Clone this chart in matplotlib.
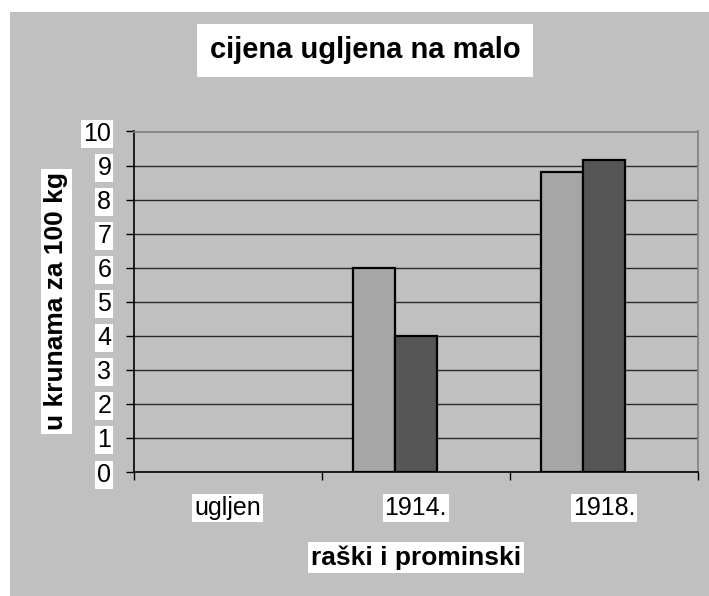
import numpy as np
import matplotlib
matplotlib.use("Agg")
import matplotlib.pyplot as plt
from matplotlib.patches import Rectangle

plt.rcParams['font.family'] = ['Liberation Sans', 'DejaVu Sans']

# data
categories = ["ugljen", "1914.", "1918."]
series_a = [np.nan, 6.0, 8.8]    # light bars
series_b = [np.nan, 4.0, 9.15]   # dark bars
n_series = 3                     # third series is empty, but it still takes a slot
yticks = list(range(0, 11))

light = "#a6a6a6"
dark = "#565656"
bg = "#c0c0c0"

fig = plt.figure(figsize=(7.09, 5.96), dpi=100, facecolor="white")
# grey chart area, leaves a thin white strip at top and left
fig.patches.append(Rectangle((10 / 709, 0), 1, (596 - 12) / 596,
                             transform=fig.transFigure, facecolor=bg,
                             edgecolor="none", zorder=-10))

ax = fig.add_axes([133.5 / 709, 124 / 596, (698 - 133.5) / 709, (472 - 131.5) / 596])
ax.set_facecolor(bg)

x = np.arange(len(categories))
w = 0.222
offs = (np.arange(n_series) - (n_series - 1) / 2) * w
ax.bar(x + offs[0], series_a, w, color=light, edgecolor="black", linewidth=1.6, zorder=3)
ax.bar(x + offs[1], series_b, w, color=dark, edgecolor="black", linewidth=1.6, zorder=3)

ax.set_xlim(-0.5, len(categories) - 0.5)
ax.set_ylim(0, 10)
ax.set_yticks(yticks)
ax.yaxis.grid(True, color="#2a2a2a", linewidth=1.0, zorder=1)
ax.set_axisbelow(True)

# x: ticks at category borders, labels in the middle
ax.set_xticks(np.arange(len(categories) + 1) - 0.5)
ax.set_xticklabels([])
ax.set_xticks(x, minor=True)
ax.set_xticklabels(categories, minor=True)
ax.tick_params(axis="x", which="major", direction="out", length=6, width=1, color="black")
ax.tick_params(axis="x", which="minor", length=0, pad=17, labelsize=18)
ax.tick_params(axis="y", direction="out", length=6, width=1, color="black", pad=10, labelsize=18)

for lbl in ax.get_yticklabels() + ax.get_xticklabels(minor=True):
    lbl.set_bbox(dict(facecolor="white", edgecolor="none", pad=1.5))

ax.spines["left"].set_color("black")
ax.spines["bottom"].set_color("black")
ax.spines["top"].set_color("#808080")
ax.spines["right"].set_color("#808080")
for s in ax.spines.values():
    s.set_linewidth(1.2)
    s.set_zorder(4)

fig.text(365 / 709, 1 - 50.5 / 596, "cijena ugljena na malo", fontsize=21,
         fontweight="bold", ha="center", va="center",
         bbox=dict(facecolor="white", edgecolor="none", pad=9))
fig.text(56.5 / 709, 1 - 301.5 / 596, "u krunama za 100 kg", fontsize=19,
         fontweight="bold", rotation=90, ha="center", va="center",
         bbox=dict(facecolor="white", edgecolor="none", pad=2.5))
fig.text(416 / 709, 1 - 557.5 / 596, "raški i prominski", fontsize=19,
         fontweight="bold", ha="center", va="center",
         bbox=dict(facecolor="white", edgecolor="none", pad=2.5))

fig.savefig("out.png", dpi=100, facecolor="white")
